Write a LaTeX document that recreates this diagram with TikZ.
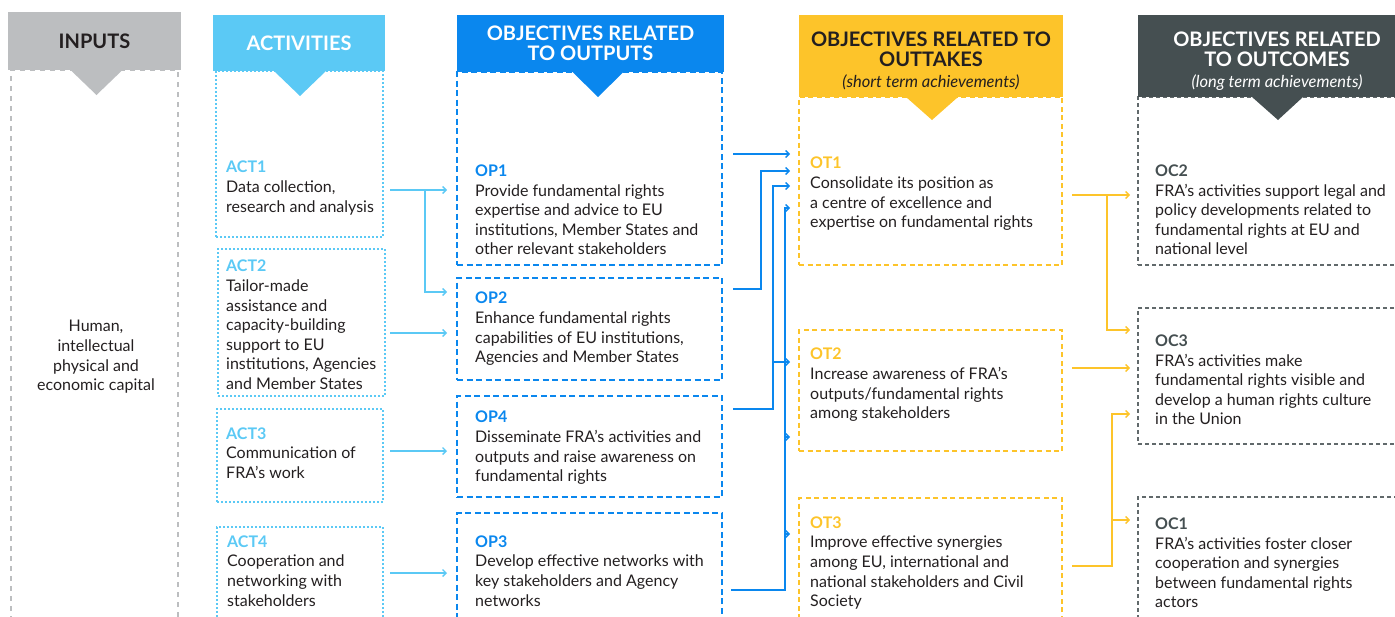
\documentclass[tikz,border=0pt]{standalone}
\usepackage{fontspec}
\setmainfont{Lato}
\usetikzlibrary{arrows.meta}
\definecolor{incol}{HTML}{BCBEC0}
\definecolor{actcol}{HTML}{5BC9F5}
\definecolor{opcol}{HTML}{0A87EE}
\definecolor{otcol}{HTML}{FDC42A}
\definecolor{occol}{HTML}{454F51}
\definecolor{txtcol}{HTML}{231F20}
\tikzstyle{colbox} = [rectangle, anchor=north west, outer sep=0pt, line width=1.4pt]
\tikzstyle{inbox} = [colbox, draw=incol, dash pattern=on 5pt off 5pt]
\tikzstyle{actbox} = [colbox, draw=actcol, dash pattern=on 2pt off 2pt]
\tikzstyle{opbox} = [colbox, draw=opcol, dash pattern=on 6pt off 3.5pt]
\tikzstyle{otbox} = [colbox, draw=otcol, dash pattern=on 5pt off 3.5pt]
\tikzstyle{ocbox} = [colbox, draw=occol!85, dash pattern=on 4pt off 3pt]
\tikzstyle{header} = [rectangle, anchor=north west, outer sep=0pt, align=center,
font=\fontsize{20}{20.5}\selectfont\bfseries]
\tikzstyle{boxtext} = [anchor=west, align=left, inner sep=0pt, text=txtcol,
font=\fontsize{16}{19.6}\selectfont]
\tikzstyle{actarrow} = [draw=actcol, line width=1.4pt, -{Straight Barb[length=3.5pt,width=7pt]}]
\tikzstyle{oparrow} = [draw=opcol, line width=1.4pt, -{Straight Barb[length=3.5pt,width=7pt]}]
\tikzstyle{otarrow} = [draw=otcol, line width=1.4pt, -{Straight Barb[length=3.5pt,width=7pt]}]
\begin{document}
\begin{tikzpicture}[x=1pt, y=-1pt]
    \clip (0,0) rectangle (1395,616);

    % column boxes
    \node (inputs) [inbox, minimum width=167pt, minimum height=580pt] at (11,70) {};
    \node (act1) [actbox, minimum width=167pt, minimum height=166pt] at (216,71) {};
    \node (act2) [actbox, minimum width=167pt, minimum height=147pt] at (218,249) {};
    \node (act3) [actbox, minimum width=166pt, minimum height=93pt] at (217,409) {};
    \node (act4) [actbox, minimum width=166pt, minimum height=120pt] at (217,527) {};
    \node (op1) [opbox, minimum width=265pt, minimum height=193pt] at (457,72) {};
    \node (op2) [opbox, minimum width=265pt, minimum height=102pt] at (457,278) {};
    \node (op4) [opbox, minimum width=265pt, minimum height=101pt] at (457,396) {};
    \node (op3) [opbox, minimum width=265pt, minimum height=130pt] at (457,513) {};
    \node (ot1) [otbox, minimum width=263pt, minimum height=168pt] at (799,97) {};
    \node (ot2) [otbox, minimum width=263pt, minimum height=121pt] at (799,330) {};
    \node (ot3) [otbox, minimum width=263pt, minimum height=140pt] at (799,498) {};
    \node (oc2) [ocbox, minimum width=270pt, minimum height=168pt] at (1138,97) {};
    \node (oc3) [ocbox, minimum width=270pt, minimum height=136pt] at (1138,308) {};
    \node (oc1) [ocbox, minimum width=270pt, minimum height=140pt] at (1138,497) {};

    % headers
    \node (inhead) [header, fill=incol, text=txtcol, minimum width=173pt, minimum height=58pt] at (8,12) {INPUTS};
    \node (acthead) [header, fill=actcol, text=white, minimum width=172pt, minimum height=56pt] at (213,15) {ACTIVITIES};
    \node (ophead) [header, fill=opcol, text=white, minimum width=267pt, minimum height=57pt] at (457,15) {OBJECTIVES RELATED\\TO OUTPUTS};
    \node (othead) [header, fill=otcol, text=txtcol, minimum width=264pt, minimum height=82pt] at (799,15) {\rule{0pt}{24pt}OBJECTIVES RELATED TO\\OUTTAKES\\{\fontsize{16.5}{21}\selectfont\mdseries\itshape (short term achievements)}};
    \node (ochead) [header, fill=occol, text=white, minimum width=278pt, minimum height=82pt] at (1138,15) {\rule{0pt}{24pt}OBJECTIVES RELATED\\TO OUTCOMES\\{\fontsize{16.5}{21}\selectfont\mdseries\itshape (long term achievements)}};
    \fill[incol] ([xshift=-24pt]inhead.south) -- ([xshift=28pt]inhead.south) -- ([xshift=2pt,yshift=-25pt]inhead.south) -- cycle;
    \fill[actcol] ([xshift=-25pt]acthead.south) -- ([xshift=27pt]acthead.south) -- ([xshift=1pt,yshift=-25pt]acthead.south) -- cycle;
    \fill[opcol] ([xshift=-18pt]ophead.south) -- ([xshift=33pt]ophead.south) -- ([xshift=7.5pt,yshift=-25pt]ophead.south) -- cycle;
    \fill[otcol] ([xshift=-25pt]othead.south) -- ([xshift=27pt]othead.south) -- ([xshift=1pt,yshift=-23pt]othead.south) -- cycle;
    \fill[occol] ([xshift=-25pt]ochead.south) -- ([xshift=26pt]ochead.south) -- ([xshift=1pt,yshift=-23pt]ochead.south) -- cycle;

    % texts
    \node (intext) [boxtext, anchor=center, align=center] at (96,357) {Human,\\intellectual\\physical and\\economic capital};
    \node (act1t) [boxtext] at (226,188) {\textcolor{actcol}{\bfseries ACT1}\\Data collection,\\research and analysis};
    \node (act2t) [boxtext] at (226,325) {\textcolor{actcol}{\bfseries ACT2}\\Tailor-made\\assistance and\\capacity-building\\support to EU\\institutions, Agencies\\and Member States};
    \node (act3t) [boxtext] at (226,453) {\textcolor{actcol}{\bfseries ACT3}\\Communication of\\FRA’s work};
    \node (act4t) [boxtext] at (227,571) {\textcolor{actcol}{\bfseries ACT4}\\Cooperation and\\networking with\\stakeholders};
    \node (op1t) [boxtext] at (475,210) {\textcolor{opcol}{\bfseries OP1}\\Provide fundamental rights\\expertise and advice to EU\\institutions, Member States and\\other relevant stakeholders};
    \node (op2t) [boxtext] at (475,329) {\textcolor{opcol}{\bfseries OP2}\\Enhance fundamental rights\\capabilities of EU institutions,\\Agencies and Member States};
    \node (op4t) [boxtext] at (475,448) {\textcolor{opcol}{\bfseries OP4}\\Disseminate FRA’s activities and\\outputs and raise awareness on\\fundamental rights};
    \node (op3t) [boxtext] at (475,571) {\textcolor{opcol}{\bfseries OP3}\\Develop effective networks with\\key stakeholders and Agency\\networks};
    \node (ot1t) [boxtext] at (810,194) {\textcolor{otcol}{\bfseries OT1}\\Consolidate its position as\\a centre of excellence and\\expertise on fundamental rights};
    \node (ot2t) [boxtext] at (810,385) {\textcolor{otcol}{\bfseries OT2}\\Increase awareness of FRA’s\\outputs/fundamental rights\\among stakeholders};
    \node (ot3t) [boxtext] at (810,563) {\textcolor{otcol}{\bfseries OT3}\\Improve effective synergies\\among EU, international and\\national stakeholders and Civil\\Society};
    \node (oc2t) [boxtext] at (1155,210) {\textcolor{occol}{\bfseries OC2}\\FRA’s activities support legal and\\policy developments related to\\fundamental rights at EU and\\national level};
    \node (oc3t) [boxtext] at (1155,380) {\textcolor{occol}{\bfseries OC3}\\FRA’s activities make\\fundamental rights visible and\\develop a human rights culture\\in the Union};
    \node (oc1t) [boxtext] at (1155,563) {\textcolor{occol}{\bfseries OC1}\\FRA’s activities foster closer\\cooperation and synergies\\between fundamental rights\\actors};

    % activities to outputs
    \draw [actarrow] ([xshift=7pt]act1.east |- 0,190) -- ([xshift=-10pt]op1.west |- 0,190);
    \draw [actarrow] ([xshift=42pt]act1.east |- 0,190) |- ([xshift=-10pt]op2.west |- 0,292);
    \draw [actarrow] ([xshift=5pt]act2.east |- 0,333) -- ([xshift=-10pt]op2.west |- 0,333);
    \draw [actarrow] ([xshift=7pt]act3.east |- 0,451) -- ([xshift=-10pt]op4.west |- 0,451);
    \draw [actarrow] ([xshift=7pt]act4.east |- 0,573) -- ([xshift=-10pt]op3.west |- 0,573);

    % outputs to outtakes
    \draw [oparrow] ([xshift=11pt]op1.east |- 0,154) -- ([xshift=-9pt]ot1.west |- 0,154);
    \draw [oparrow] ([xshift=11pt]op2.east |- 0,289) -- ++(28,0) |- ([xshift=-9pt]ot1.west |- 0,171);
    \draw [oparrow] ([xshift=11pt]op4.east |- 0,409) -- ++(40,0) |- ([xshift=-9pt]ot1.west |- 0,186);
    \draw [oparrow] ([xshift=51pt]op4.east |- 0,362) -- ([xshift=-9pt]ot2.west |- 0,362);
    \draw [oparrow] ([xshift=9pt]op3.east |- 0,590) -- ++(54,0) |- ([xshift=-9pt]ot1.west |- 0,208);
    \draw [oparrow] ([xshift=63pt]op3.east |- 0,437) -- ([xshift=-9pt]ot2.west |- 0,437);
    \draw [oparrow] ([xshift=63pt]op3.east |- 0,534) -- ([xshift=-9pt]ot3.west |- 0,534);

    % outtakes to outcomes
    \draw [otarrow] ([xshift=10pt]ot1.east |- 0,195) -- ([xshift=-8pt]oc2.west |- 0,195);
    \draw [otarrow] ([xshift=45pt]ot1.east |- 0,195) |- ([xshift=-8pt]oc3.west |- 0,330);
    \draw [otarrow] ([xshift=10pt]ot2.east |- 0,368) -- ([xshift=-8pt]oc3.west |- 0,368);
    \draw [otarrow] ([xshift=10pt]ot3.east |- 0,566) -- ++(40,0) |- ([xshift=-8pt]oc3.west |- 0,414);
    \draw [otarrow] ([xshift=50pt]ot3.east |- 0,520) -- ([xshift=-8pt]oc1.west |- 0,520);
\end{tikzpicture}
\end{document}
